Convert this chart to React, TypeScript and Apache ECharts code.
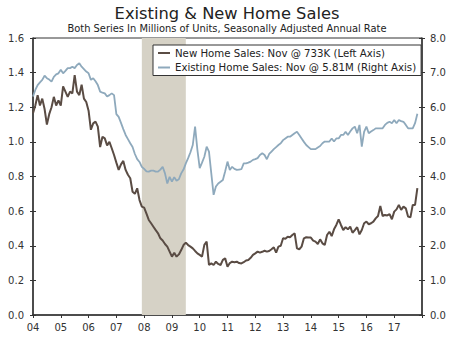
import React, { useEffect, useRef } from 'react';
import * as echarts from 'echarts';

const startYear = 2004;
const yearLabels = ['04', '05', '06', '07', '08', '09', '10', '11', '12', '13', '14', '15', '16', '17'];
const leftTicks = [0, 0.2, 0.4, 0.6, 0.8, 1.0, 1.2, 1.4, 1.6];
const rightTicks = [0, 1, 2, 3, 4, 5, 6, 7, 8];
const recession = [2007.917, 2009.5];

// New home sales, millions SAAR, Jan 2004 - Nov 2017 (left axis)
const newHomeSales = [
  1.165, 1.21, 1.27, 1.21, 1.25, 1.19, 1.10, 1.16, 1.20, 1.26, 1.21, 1.24,
  1.21, 1.32, 1.29, 1.26, 1.29, 1.28, 1.386, 1.29, 1.27, 1.33, 1.25, 1.23,
  1.18, 1.07, 1.107, 1.117, 1.088, 0.97, 1.03, 1.02, 0.98, 1.00, 0.963, 0.924,
  0.88, 0.838, 0.87, 0.89, 0.838, 0.81, 0.79, 0.712, 0.70, 0.732, 0.664, 0.626,
  0.62, 0.585, 0.549, 0.53, 0.51, 0.49, 0.472, 0.443, 0.43, 0.41, 0.395, 0.366,
  0.337, 0.36, 0.337, 0.35, 0.375, 0.404, 0.418, 0.404, 0.395, 0.385, 0.37, 0.356,
  0.347, 0.337, 0.405, 0.424, 0.289, 0.298, 0.289, 0.308, 0.295, 0.289, 0.318, 0.327,
  0.279, 0.30, 0.308, 0.305, 0.308, 0.30, 0.298, 0.305, 0.315, 0.318, 0.33, 0.347,
  0.356, 0.366, 0.36, 0.365, 0.371, 0.366, 0.37, 0.38, 0.391, 0.36, 0.395, 0.40,
  0.443, 0.44, 0.452, 0.449, 0.462, 0.472, 0.385, 0.38, 0.395, 0.443, 0.449, 0.447,
  0.447, 0.43, 0.424, 0.41, 0.437, 0.414, 0.404, 0.462, 0.481, 0.456, 0.495, 0.52,
  0.553, 0.52, 0.491, 0.507, 0.495, 0.51, 0.475, 0.49, 0.507, 0.466, 0.491, 0.53,
  0.539, 0.524, 0.53, 0.539, 0.558, 0.572, 0.63, 0.572, 0.578, 0.575, 0.583, 0.553,
  0.597, 0.61, 0.636, 0.607, 0.626, 0.616, 0.568, 0.564, 0.636, 0.636, 0.733,
];

// Existing home sales, millions SAAR, Jan 2004 - Nov 2017 (right axis)
const existingHomeSales = [
  6.31, 6.5, 6.64, 6.72, 6.79, 6.91, 6.84, 6.80, 6.74, 6.88, 6.95, 6.98,
  7.08, 6.98, 7.05, 7.13, 7.13, 7.17, 7.13, 7.22, 7.27, 7.17, 7.10, 7.03,
  6.98, 6.79, 6.84, 6.75, 6.64, 6.45, 6.42, 6.40, 6.31, 6.35, 6.40, 6.35,
  5.80, 5.72, 5.55, 5.37, 5.20, 5.08, 4.96, 4.85, 4.65, 4.50, 4.42, 4.28,
  4.22, 4.15, 4.14, 4.17, 4.17, 4.14, 4.14, 4.20, 4.28, 4.09, 3.80, 3.99,
  3.85, 3.98, 3.88, 3.92, 4.09, 4.20, 4.38, 4.53, 4.70, 4.91, 5.44, 4.77,
  4.24, 4.40, 4.57, 4.86, 4.72, 4.09, 3.47, 3.71, 3.80, 3.85, 3.90, 4.15,
  4.43, 4.19, 4.28, 4.22, 4.19, 4.20, 4.21, 4.38, 4.38, 4.40, 4.43, 4.48,
  4.50, 4.53, 4.62, 4.67, 4.62, 4.50, 4.65, 4.72, 4.79, 4.85, 4.91, 4.96,
  5.05, 5.10, 5.15, 5.15, 5.20, 5.25, 5.29, 5.20, 5.10, 5.00, 4.91, 4.85,
  4.79, 4.79, 4.79, 4.84, 4.88, 4.96, 5.01, 5.01, 5.01, 5.10, 5.01, 5.10,
  5.10, 5.20, 5.20, 5.29, 5.20, 5.30, 5.39, 5.44, 5.25, 5.49, 4.86, 5.29,
  5.44, 5.25, 5.30, 5.34, 5.39, 5.39, 5.39, 5.39, 5.49, 5.55, 5.58, 5.54,
  5.63, 5.54, 5.63, 5.60, 5.58, 5.49, 5.39, 5.39, 5.39, 5.54, 5.81,
];

const newName = 'New Home Sales: Nov @ 733K (Left Axis)';
const existingName = 'Existing Home Sales: Nov @ 5.81M (Right Axis)';

const FONT = 'DejaVu Sans';
const AXIS = '#333';

export default function App() {
  const ref = useRef<HTMLDivElement>(null);
  useEffect(() => {
    const chart = echarts.init(ref.current!, null, { renderer: 'svg' });
    const toPts = (arr: number[]) => arr.map((v, i) => [startYear + i / 12, v]);
    const xBase = {
      type: 'value', min: startYear, max: startYear + 14, interval: 1,
      splitLine: { show: false },
    };
    const yLeftBase = {
      type: 'value', position: 'left', min: leftTicks[0], max: leftTicks[leftTicks.length - 1], interval: 0.2,
      splitLine: { show: false },
    };
    const yRightBase = {
      type: 'value', position: 'right', min: rightTicks[0], max: rightTicks[rightTicks.length - 1], interval: 1,
      splitLine: { show: false },
    };
    const tickLen = 3;
    chart.setOption({
      animation: false,
      backgroundColor: '#fff',
      title: {
        text: 'Existing & New Home Sales',
        subtext: 'Both Series In Millions of Units, Seasonally Adjusted Annual Rate',
        left: 'center', top: 0, itemGap: 2,
        textStyle: { fontFamily: FONT, fontSize: 16.3, fontWeight: 'normal', color: '#222' },
        subtextStyle: { fontFamily: FONT, fontSize: 9.9, color: '#222' },
      },
      legend: {
        orient: 'vertical', left: 153, top: 45,
        data: [{ name: newName }, { name: existingName }],
        icon: 'rect', itemWidth: 12, itemHeight: 2, itemGap: 2.5,
        padding: [2, 5, 2, 5],
        backgroundColor: '#fff', borderColor: '#333', borderWidth: 1,
        textStyle: { fontFamily: FONT, fontSize: 10.2, color: '#222', lineHeight: 12 },
      },
      grid: {
        left: 33, right: 32, top: 38, bottom: 26,
        show: true, borderColor: AXIS, borderWidth: 1, backgroundColor: 'transparent',
      },
      xAxis: [
        {
          ...xBase,
          axisLine: { show: true, lineStyle: { color: AXIS, width: 1.5 } },
          axisTick: { show: true, inside: false, length: tickLen, lineStyle: { color: AXIS } },
          axisLabel: {
            margin: 7, fontFamily: FONT, fontSize: 10, color: '#333',
            formatter: (v: number) => yearLabels[Math.round(v - startYear)] ?? '',
          },
        },
        {
          ...xBase,
          axisLine: { show: false },
          axisTick: { show: true, inside: true, length: tickLen, lineStyle: { color: AXIS } },
          axisLabel: { show: false },
        },
      ],
      yAxis: [
        {
          ...yLeftBase,
          axisLine: { show: true, lineStyle: { color: AXIS, width: 1.5 } },
          axisTick: { show: true, inside: false, length: tickLen, lineStyle: { color: AXIS } },
          axisLabel: { margin: 9, fontFamily: FONT, fontSize: 10, color: '#333', formatter: (v: number) => v.toFixed(1) },
        },
        {
          ...yRightBase,
          axisLine: { show: true, lineStyle: { color: AXIS, width: 1.5 } },
          axisTick: { show: true, inside: false, length: tickLen, lineStyle: { color: AXIS } },
          axisLabel: { margin: 8, fontFamily: FONT, fontSize: 10, color: '#333', formatter: (v: number) => v.toFixed(1) },
        },
        {
          ...yLeftBase,
          axisLine: { show: false },
          axisTick: { show: true, inside: true, length: tickLen, lineStyle: { color: AXIS } },
          axisLabel: { show: false },
        },
        {
          ...yRightBase,
          axisLine: { show: false },
          axisTick: { show: true, inside: true, length: tickLen, lineStyle: { color: AXIS } },
          axisLabel: { show: false },
        },
      ],
      series: [
        {
          type: 'line', name: 'recession', data: [], xAxisIndex: 0, yAxisIndex: 0, z: 1,
          markArea: {
            silent: true,
            itemStyle: { color: '#d6d2c6' },
            data: [[{ xAxis: recession[0] }, { xAxis: recession[1] }]],
          },
        },
        {
          type: 'line', name: existingName, data: toPts(existingHomeSales), xAxisIndex: 0, yAxisIndex: 1,
          showSymbol: false, symbol: 'none', z: 3,
          lineStyle: { color: '#8ea9bc', width: 1.8 }, itemStyle: { color: '#8ea9bc' },
        },
        {
          type: 'line', name: newName, data: toPts(newHomeSales), xAxisIndex: 0, yAxisIndex: 0,
          showSymbol: false, symbol: 'none', z: 4,
          lineStyle: { color: '#5a4c44', width: 2 }, itemStyle: { color: '#5a4c44' },
        },
      ],
    });
    return () => chart.dispose();
  }, []);
  return (
    <div
      ref={ref}
      style={{ position: 'fixed', left: 0, top: 0, width: 454, height: 341, background: '#fff' }}
    />
  );
}
